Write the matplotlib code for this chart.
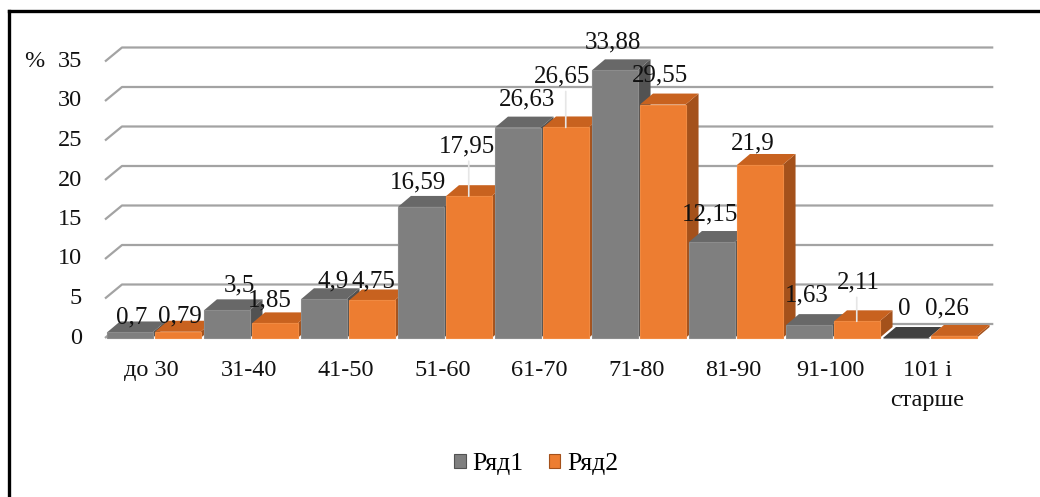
import matplotlib
matplotlib.use("Agg")
import matplotlib.pyplot as plt
from matplotlib.patches import Polygon, Patch
from matplotlib.lines import Line2D

categories = ["до 30", "31-40", "41-50", "51-60", "61-70", "71-80",
              "81-90", "91-100", "101 і\nстарше"]
row1 = [0.7, 3.5, 4.9, 16.59, 26.63, 33.88, 12.15, 1.63, 0]
row2 = [0.79, 1.85, 4.75, 17.95, 26.65, 29.55, 21.9, 2.11, 0.26]
series_names = ["Ряд1", "Ряд2"]
yticks = [0, 5, 10, 15, 20, 25, 30, 35]

# label nudges in pixels: (dx, rise above the front top edge)
nudge1 = [(2, 15), (13, 25), (9, 18), (-3, 24), (9, 28), (-2, 28), (-2, 28), (-2, 30), (-1, 29)]
nudge2 = [(2, 15), (-5, 23), (2, 19), (-2, 50), (-4, 51), (-3, 29), (-7, 22), (2, 39), (-7, 27)]
leaders = {(1, 3), (1, 4), (1, 7)}

SERIF = "Liberation Serif"
W, H = 1040, 497
fig = plt.figure(figsize=(W / 100, H / 100), dpi=100)
left, right, y0, y35 = 105, 978, 338, 61.5
ax = fig.add_axes([left / W, 1 - y0 / H, (right - left) / W, (y0 - y35) / H])
ax.set_xlim(-0.5, 8.5)
ax.set_ylim(0, 35)
ax.axis("off")

# pixels per data unit
sx = (right - left) / 9.0
sy = (y0 - y35) / 35.0

grid_dx, grid_dy = 17 / sx, 14 / sy
bar_dx, bar_dy = 13 / sx, 11 / sy

# back wall gridlines with the slanted side-wall segment
for v in yticks:
    ax.plot([-0.5, -0.5 + grid_dx, 8.5 + grid_dx * 0.9],
            [v, v + grid_dy, v + grid_dy],
            color="#a3a3a3", lw=1.6, clip_on=False, zorder=1,
            solid_capstyle="butt")

styles = [
    dict(front="#7f7f7f", top="#686868", side="#525252", edge="#8c8c8c"),
    dict(front="#ed7d31", top="#c8621f", side="#a4511b", edge="#f08a42"),
]
offsets = [0.02, 0.515]
width = 0.47


def draw_bar(x0, h, st, z):
    x1 = x0 + width
    front = Polygon([(x0, 0), (x1, 0), (x1, h), (x0, h)], closed=True,
                    facecolor=st["front"], edgecolor=st["edge"], lw=0.8,
                    clip_on=False, zorder=z)
    top = Polygon([(x0, h), (x1, h), (x1 + bar_dx, h + bar_dy), (x0 + bar_dx, h + bar_dy)],
                  closed=True, facecolor=st["top"], edgecolor="none",
                  clip_on=False, zorder=z)
    side = Polygon([(x1, 0), (x1 + bar_dx, bar_dy), (x1 + bar_dx, h + bar_dy), (x1, h)],
                   closed=True, facecolor=st["side"], edgecolor="none",
                   clip_on=False, zorder=z)
    for p in (side, top, front):
        ax.add_patch(p)


z = 2
for i in range(len(categories)):
    for s, vals in enumerate([row1, row2]):
        st = dict(styles[s])
        if vals[i] == 0:
            st["top"] = "#404040"
        draw_bar(i - 0.5 + offsets[s], vals[i], st, z)
        z += 1

# value labels
for s, (vals, nudges) in enumerate([(row1, nudge1), (row2, nudge2)]):
    for i, v in enumerate(vals):
        xc = i - 0.5 + offsets[s] + width / 2
        dx, rise = nudges[i]
        ax.annotate(f"{v:g}".replace(".", ","), xy=(xc, v),
                    xytext=(dx, rise), textcoords="offset pixels",
                    ha="center", va="center", fontsize=18, family=SERIF,
                    color="#111111", zorder=50, annotation_clip=False)
        if (s, i) in leaders:
            ax.annotate("", xy=(xc, v), xytext=(0, rise - 15),
                        textcoords="offset pixels",
                        arrowprops=dict(arrowstyle="-", color="#e6e6e6", lw=1.2,
                                        shrinkA=0, shrinkB=0),
                        zorder=49, annotation_clip=False)

# value axis labels
for v in yticks:
    ax.annotate(str(v), xy=(-0.5, v), xytext=(-23, 0), textcoords="offset pixels",
                ha="right", va="center", fontsize=17.5, family=SERIF,
                color="#111111", annotation_clip=False)
ax.annotate("%", xy=(-0.5, 35), xytext=(-71, 0), textcoords="offset pixels",
            ha="center", va="center", fontsize=17.5, family=SERIF,
            color="#111111", annotation_clip=False)

# category labels
for i, c in enumerate(categories):
    ax.annotate(c, xy=(i, 0), xytext=(-2, -22), textcoords="offset pixels",
                ha="center", va="top", fontsize=17.5, family=SERIF,
                color="#111111", linespacing=1.55, annotation_clip=False)

handles = [Patch(facecolor=styles[k]["front"], edgecolor=styles[k]["side"], lw=0.8)
           for k in range(2)]
fig.legend(handles, series_names, loc="center", bbox_to_anchor=(536 / W, 1 - 464 / H),
           ncol=2, frameon=False, prop={"family": SERIF, "size": 18.5},
           handlelength=0.45, handleheight=0.45, handletextpad=0.25, columnspacing=1.0)

# frame edges
fig.add_artist(Line2D([9 / W, 1], [1 - 11 / H, 1 - 11 / H], color="black", lw=2.4))
fig.add_artist(Line2D([9 / W, 9 / W], [0, 1 - 11 / H], color="black", lw=2.4))

fig.savefig("out.png", dpi=100, facecolor="white")
